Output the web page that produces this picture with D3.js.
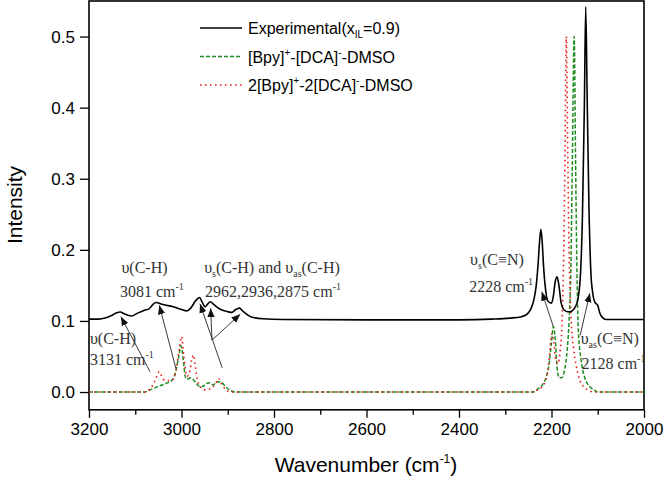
<!DOCTYPE html>
<html lang="en">
<head>
  <meta charset="UTF-8">
  <title>Raman spectra</title>
  <script src="https://d3js.org/d3.v7.min.js"></script>
  <style>
    body { margin: 0; background: #fff; }
    .tick text { font-family: Arial, "Liberation Sans", sans-serif; font-size: 17px; fill: #000; }
    .ann { font-family: "Liberation Serif", "Times New Roman", serif; font-size: 16px; fill: #333; }
    .leg { font-family: Arial, "Liberation Sans", sans-serif; font-size: 16px; fill: #000; }
  </style>
</head>
<body>
<div id="chart"></div>
<script>
// Experimental spectrum (x_IL = 0.9)
const expW = [3200, 3180, 3165, 3150, 3140, 3132, 3124, 3108, 3095, 3080, 3070, 3062, 3055, 3040, 3018, 3000, 2989, 2980, 2970, 2961, 2955, 2949, 2943, 2938, 2930, 2915, 2900, 2891, 2883, 2875, 2866, 2850, 2824, 2780, 2600, 2400, 2330, 2290, 2265, 2252, 2244, 2238, 2233, 2229, 2226, 2223, 2220, 2217, 2213, 2208, 2200, 2196, 2192, 2188, 2184, 2179, 2172, 2165, 2160, 2150, 2143, 2137, 2133, 2129, 2126, 2123, 2119, 2115, 2111, 2106, 2100, 2096, 2090, 2082, 2000];
const expI = [0.1025, 0.1025, 0.104, 0.108, 0.1115, 0.1125, 0.11, 0.107, 0.111, 0.115, 0.117, 0.123, 0.126, 0.123, 0.12, 0.116, 0.114, 0.118, 0.128, 0.133, 0.126, 0.12, 0.124, 0.127, 0.123, 0.116, 0.113, 0.112, 0.116, 0.118, 0.113, 0.106, 0.103, 0.102, 0.1015, 0.1015, 0.1025, 0.104, 0.106, 0.11, 0.118, 0.13, 0.15, 0.18, 0.21, 0.229, 0.21, 0.175, 0.145, 0.128, 0.125, 0.135, 0.155, 0.162, 0.15, 0.125, 0.115, 0.113, 0.113, 0.118, 0.13, 0.17, 0.25, 0.4, 0.542, 0.42, 0.26, 0.17, 0.14, 0.126, 0.122, 0.112, 0.105, 0.102, 0.102];

// [Bpy]+-[DCA]--DMSO
const bpyW = [3200, 3080, 3068, 3050, 3032, 3020, 3012, 3006, 3001, 2996, 2992, 2988, 2980, 2975, 2968, 2960, 2954, 2946, 2938, 2932, 2922, 2914, 2908, 2900, 2884, 2240, 2230, 2220, 2212, 2205, 2200, 2196, 2192, 2188, 2183, 2178, 2172, 2166, 2162, 2158, 2155, 2151, 2148, 2145, 2142, 2136, 2128, 2118, 2110, 2100, 2000];
const bpyI = [0, 0, 0.003, 0.008, 0.0125, 0.017, 0.03, 0.05, 0.065, 0.045, 0.022, 0.018, 0.02, 0.018, 0.012, 0.0075, 0.008, 0.012, 0.013, 0.01, 0.0145, 0.014, 0.01, 0.005, 0, 0, 0.004, 0.01, 0.02, 0.04, 0.07, 0.092, 0.075, 0.035, 0.02, 0.02, 0.03, 0.06, 0.1, 0.18, 0.32, 0.5, 0.33, 0.17, 0.087, 0.045, 0.02, 0.008, 0.004, 0, 0];

// 2[Bpy]+-2[DCA]--DMSO
const bpy2W = [3200, 3080, 3068, 3058, 3048, 3040, 3030, 3020, 3012, 3006, 3000, 2995, 2988, 2982, 2978, 2974, 2970, 2965, 2958, 2950, 2940, 2932, 2926, 2920, 2914, 2905, 2895, 2240, 2230, 2220, 2212, 2206, 2202, 2199, 2195, 2191, 2186, 2181, 2177, 2174, 2171, 2168, 2165, 2162, 2158, 2152, 2146, 2138, 2128, 2118, 2110, 2000];
const bpy2I = [0, 0, 0.004, 0.015, 0.0285, 0.018, 0.016, 0.017, 0.03, 0.055, 0.078, 0.05, 0.022, 0.03, 0.045, 0.052, 0.035, 0.015, 0.006, 0.003, 0.004, 0.0075, 0.012, 0.019, 0.012, 0.004, 0, 0, 0.003, 0.008, 0.018, 0.04, 0.07, 0.082, 0.07, 0.045, 0.04, 0.06, 0.1, 0.18, 0.32, 0.5, 0.34, 0.2, 0.11, 0.06, 0.035, 0.015, 0.006, 0.002, 0, 0];

const xTicks = [3200, 3000, 2800, 2600, 2400, 2200, 2000];
const xMinor = [3100, 2900, 2700, 2500, 2300, 2100];
const yTicks = [0.0, 0.1, 0.2, 0.3, 0.4, 0.5];

// Annotations in data units: [wavenumber, intensity]
const labels = [
  { w: 3130, i: 0.167, parts: [["υ(C-H)"]] },
  { w: 3133, i: 0.134, parts: [["3081 cm"], ["-1", "sup"]] },
  { w: 2951, i: 0.167, parts: [["υ"], ["s", "sub"], ["(C-H) and υ"], ["as", "sub"], ["(C-H)"]] },
  { w: 2949, i: 0.133, parts: [["2962,2936,2875 cm"], ["-1", "sup"]] },
  { w: 3198, i: 0.068, parts: [["υ(C-H)"]] },
  { w: 3198, i: 0.038, parts: [["3131 cm"], ["-1", "sup"]] },
  { w: 2376, i: 0.178, parts: [["υ"], ["s", "sub"], ["(C≡N)"]] },
  { w: 2378, i: 0.141, parts: [["2228 cm"], ["-1", "sup"]] },
  { w: 2137, i: 0.068, parts: [["υ"], ["as", "sub"], ["(C≡N)"]] },
  { w: 2135, i: 0.033, parts: [["2128 cm"], ["-1", "sup"]] }
];
const arrows = [
  [3068, 0.0285, 3131, 0.106],
  [3012, 0.033, 3048, 0.122],
  [2912, 0.034, 2960, 0.124],
  [2934, 0.073, 2937, 0.118],
  [2934, 0.073, 2873, 0.1095],
  [2196, 0.092, 2221, 0.141],
  [2138, 0.080, 2117, 0.139]
];

const width = 664, height = 480;
const margin = { left: 89, right: 20, top: 1, bottom: 70 };

const svg = d3.select("#chart").append("svg")
  .attr("width", width)
  .attr("height", height);

const x = d3.scaleLinear().domain([3200, 2000]).range([89, 644]);
const y = d3.scaleLinear().domain([-0.025, 0.55]).range([409.8, 1]);

svg.append("defs").append("clipPath").attr("id", "clip")
  .append("rect").attr("x", 89).attr("y", 1).attr("width", 555).attr("height", 408.8);

const marker = svg.select("defs").append("marker")
  .attr("id", "head")
  .attr("viewBox", "0 0 10 10")
  .attr("refX", 10).attr("refY", 5)
  .attr("markerWidth", 9).attr("markerHeight", 9)
  .attr("markerUnits", "userSpaceOnUse")
  .attr("orient", "auto");
marker.append("path").attr("d", "M0,1 L10,5 L0,9 Z").attr("fill", "#111");

// axes
svg.append("g")
  .attr("transform", "translate(0,409.8)")
  .call(d3.axisBottom(x).tickValues(xMinor).tickSize(5).tickFormat(""))
  .call(g => g.select(".domain").remove())
  .selectAll("line").attr("stroke-width", 1.3);

svg.append("g")
  .attr("transform", "translate(0,409.8)")
  .call(d3.axisBottom(x).tickValues(xTicks).tickSize(8).tickPadding(5).tickFormat(d3.format("d")))
  .call(g => g.select(".domain").remove())
  .call(g => g.selectAll("line").attr("stroke-width", 1.3));

svg.append("g")
  .attr("transform", "translate(89,0)")
  .call(d3.axisLeft(y).tickValues(yTicks).tickSize(9).tickPadding(5).tickFormat(d3.format(".1f")))
  .call(g => g.select(".domain").remove())
  .call(g => g.selectAll("line").attr("stroke-width", 1.3));

// frame
svg.append("rect")
  .attr("x", 89).attr("y", 1).attr("width", 555).attr("height", 408.8)
  .attr("fill", "none").attr("stroke", "#000").attr("stroke-width", 1.6);

const line = d3.line()
  .x(d => x(d[0]))
  .y(d => y(d[1]))
  .curve(d3.curveMonotoneX);

const plot = svg.append("g").attr("clip-path", "url(#clip)");

plot.append("path")
  .datum(d3.zip(bpyW, bpyI))
  .attr("d", line)
  .attr("fill", "none")
  .attr("stroke", "#1f8c1f")
  .attr("stroke-width", 1.5)
  .attr("stroke-dasharray", "4,2");

plot.append("path")
  .datum(d3.zip(bpy2W, bpy2I))
  .attr("d", line)
  .attr("fill", "none")
  .attr("stroke", "#e8231f")
  .attr("stroke-width", 1.6)
  .attr("stroke-dasharray", "1.6,3.4");

plot.append("path")
  .datum(d3.zip(expW, expI))
  .attr("d", line)
  .attr("fill", "none")
  .attr("stroke", "#000")
  .attr("stroke-width", 1.6);

// annotation arrows
svg.selectAll(".arrow")
  .data(arrows)
  .enter()
  .append("line")
  .attr("class", "arrow")
  .attr("x1", d => x(d[0])).attr("y1", d => y(d[1]))
  .attr("x2", d => x(d[2])).attr("y2", d => y(d[3]))
  .attr("stroke", "#222")
  .attr("stroke-width", 0.9)
  .attr("marker-end", "url(#head)");

// annotation text
labels.forEach(l => {
  const t = svg.append("text").attr("class", "ann")
    .attr("x", x(l.w)).attr("y", y(l.i));
  l.parts.forEach(p => {
    const s = t.append("tspan").text(p[0]);
    if (p[1] === "sup") s.attr("font-size", 10).attr("dy", -7);
    if (p[1] === "sub") s.attr("font-size", 10).attr("dy", 4);
    // reset baseline for the part after a shifted one
  });
  // put following parts back on the baseline
  let shift = 0;
  t.selectAll("tspan").each(function(d, i) {
    const p = l.parts[i];
    const want = p[1] === "sup" ? -7 : p[1] === "sub" ? 4 : 0;
    d3.select(this).attr("dy", want - shift);
    shift = want;
  });
});

// legend
const legend = svg.append("g");
const legItems = [
  { color: "#000", dash: null, parts: [["Experimental(x"], ["IL", "sub"], ["=0.9)"]] },
  { color: "#1f8c1f", dash: "4,2", parts: [["[Bpy]"], ["+", "sup"], ["-[DCA]"], ["-", "sup"], ["-DMSO"]] },
  { color: "#e8231f", dash: "1.6,3.4", parts: [["2[Bpy]"], ["+", "sup"], ["-2[DCA]"], ["-", "sup"], ["-DMSO"]] }
];
legItems.forEach((it, k) => {
  const ly = 28 + k * 28.5;
  legend.append("line")
    .attr("x1", 200).attr("x2", 242).attr("y1", ly).attr("y2", ly)
    .attr("stroke", it.color).attr("stroke-width", 1.6)
    .attr("stroke-dasharray", it.dash);
  const t = legend.append("text").attr("class", "leg").attr("x", 248).attr("y", ly + 6);
  let shift = 0;
  it.parts.forEach(p => {
    const want = p[1] === "sup" ? -7 : p[1] === "sub" ? 4 : 0;
    const s = t.append("tspan").text(p[0]).attr("dy", want - shift);
    if (p[1]) s.attr("font-size", 10);
    shift = want;
  });
});

// axis titles
svg.append("text")
  .attr("x", 366).attr("y", 472)
  .attr("text-anchor", "middle")
  .style("font-family", "Arial, 'Liberation Sans', sans-serif")
  .style("font-size", "21px")
  .html('Wavenumber (cm<tspan font-size="12" dy="-9">-1</tspan><tspan dy="9">)</tspan>');

svg.append("text")
  .attr("transform", "translate(22,205) rotate(-90)")
  .attr("text-anchor", "middle")
  .style("font-family", "Arial, 'Liberation Sans', sans-serif")
  .style("font-size", "21px")
  .text("Intensity");
</script>
</body>
</html>
